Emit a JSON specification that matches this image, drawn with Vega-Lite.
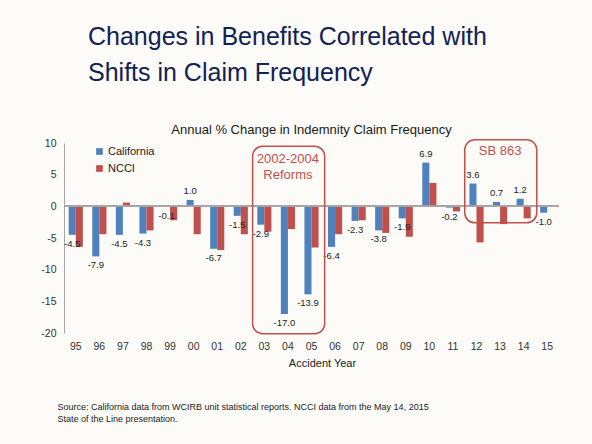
{
  "$schema": "https://vega.github.io/schema/vega-lite/v6.json",
  "autosize": "none",
  "width": 495,
  "height": 190,
  "padding": {"left": 64, "top": 143, "right": 33, "bottom": 111},
  "background": "#FCFBF7",
  "config": {
    "view": {"stroke": null},
    "font": "Liberation Sans",
    "locale": {"number": {"decimal": ".", "thousands": ",", "grouping": [3], "currency": ["$", ""], "minus": "-"}}
  },
  "title": {
    "text": ["Changes in Benefits Correlated with", "Shifts in Claim Frequency"],
    "anchor": "start",
    "frame": "group",
    "dx": 24,
    "offset": 37,
    "fontSize": 25,
    "font": "Liberation Sans",
    "fontWeight": "normal",
    "color": "#112255",
    "lineHeight": 36.6
  },
  "datasets": {
    "bars": [
      {"yr": "95", "series": "California", "v": -4.5},
      {"yr": "96", "series": "California", "v": -7.9},
      {"yr": "97", "series": "California", "v": -4.5},
      {"yr": "98", "series": "California", "v": -4.3},
      {"yr": "99", "series": "California", "v": -0.1},
      {"yr": "00", "series": "California", "v": 1.0},
      {"yr": "01", "series": "California", "v": -6.7},
      {"yr": "02", "series": "California", "v": -1.5},
      {"yr": "03", "series": "California", "v": -2.9},
      {"yr": "04", "series": "California", "v": -17.0},
      {"yr": "05", "series": "California", "v": -13.9},
      {"yr": "06", "series": "California", "v": -6.4},
      {"yr": "07", "series": "California", "v": -2.3},
      {"yr": "08", "series": "California", "v": -3.8},
      {"yr": "09", "series": "California", "v": -1.9},
      {"yr": "10", "series": "California", "v": 6.9},
      {"yr": "11", "series": "California", "v": -0.2},
      {"yr": "12", "series": "California", "v": 3.6},
      {"yr": "13", "series": "California", "v": 0.7},
      {"yr": "14", "series": "California", "v": 1.2},
      {"yr": "15", "series": "California", "v": -1.0},
      {"yr": "95", "series": "NCCI", "v": -6.4},
      {"yr": "96", "series": "NCCI", "v": -4.4},
      {"yr": "97", "series": "NCCI", "v": 0.6},
      {"yr": "98", "series": "NCCI", "v": -3.8},
      {"yr": "99", "series": "NCCI", "v": -2.2},
      {"yr": "00", "series": "NCCI", "v": -4.4},
      {"yr": "01", "series": "NCCI", "v": -6.9},
      {"yr": "02", "series": "NCCI", "v": -4.4},
      {"yr": "03", "series": "NCCI", "v": -4.0},
      {"yr": "04", "series": "NCCI", "v": -3.6},
      {"yr": "05", "series": "NCCI", "v": -6.5},
      {"yr": "06", "series": "NCCI", "v": -4.4},
      {"yr": "07", "series": "NCCI", "v": -2.2},
      {"yr": "08", "series": "NCCI", "v": -4.2},
      {"yr": "09", "series": "NCCI", "v": -4.8},
      {"yr": "10", "series": "NCCI", "v": 3.7},
      {"yr": "11", "series": "NCCI", "v": -0.8},
      {"yr": "12", "series": "NCCI", "v": -5.7},
      {"yr": "13", "series": "NCCI", "v": -2.8},
      {"yr": "14", "series": "NCCI", "v": -1.9}
    ],
    "boxes": [
      {"a": "03", "b": "05", "top": 9.5, "bot": -20.1},
      {"a": "12", "b": "14", "top": 10.5, "bot": -2.6}
    ],
    "notes": [
      {"yr": "04", "y": 7.5, "t": "2002-2004"},
      {"yr": "04", "y": 5.0, "t": "Reforms"},
      {"yr": "13", "y": 8.8, "t": "SB 863"}
    ],
    "heading": [
      {"yr": "05", "y": 11.5, "t": "Annual % Change in Indemnity Claim Frequency"}
    ]
  },
  "layer": [
    {
      "data": {"name": "bars"},
      "mark": {"type": "bar"},
      "encoding": {
        "x": {
          "field": "yr",
          "type": "nominal",
          "scale": {
            "domain": ["95","96","97","98","99","00","01","02","03","04","05","06","07","08","09","10","11","12","13","14","15"],
            "paddingInner": 0.4,
            "paddingOuter": 0.2
          },
          "axis": {
            "title": "Accident Year",
            "domain": false,
            "ticks": false,
            "labelAngle": 0,
            "labelPadding": 8,
            "labelFontSize": 10.5,
            "labelColor": "#333333",
            "titleFontSize": 11,
            "titleFontWeight": "normal",
            "titleColor": "#222222",
            "titlePadding": 6,
            "titleX": 258
          }
        },
        "xOffset": {"field": "series", "type": "nominal", "sort": ["California", "NCCI"]},
        "y": {
          "field": "v",
          "type": "quantitative",
          "scale": {"domain": [-20, 10], "nice": false},
          "axis": {
            "values": [-20, -15, -10, -5, 0, 5, 10],
            "tickCount": 7,
            "labelOverlap": false,
            "format": "d",
            "ticks": false,
            "grid": false,
            "domainColor": "#A6A6A6",
            "labelFontSize": 10.5,
            "labelColor": "#333333",
            "labelPadding": 8,
            "title": ["Source: California data from WCIRB unit statistical reports. NCCI data from the May 14, 2015", "State of the Line presentation."],
            "titleAngle": 0,
            "titleAlign": "left",
            "titleBaseline": "alphabetic",
            "titleX": -7,
            "titleY": 266,
            "titleFontSize": 9,
            "titleFontWeight": "normal",
            "titleColor": "#222222",
            "titleLineHeight": 12
          }
        },
        "color": {
          "field": "series",
          "type": "nominal",
          "scale": {"domain": ["California", "NCCI"], "range": ["#4F81BD", "#C0504D"]},
          "legend": {
            "orient": "none",
            "legendX": 30,
            "legendY": 3,
            "title": null,
            "symbolType": "square",
            "symbolSize": 45,
            "labelFontSize": 11,
            "labelColor": "#222222",
            "rowPadding": 5,
            "labelOffset": 3
          }
        }
      }
    },
    {
      "data": {"name": "bars"},
      "mark": {"type": "rule", "color": "#A6A6A6", "strokeWidth": 1},
      "encoding": {"y": {"datum": 0, "type": "quantitative"}}
    },
    {
      "data": {"name": "bars"},
      "transform": [{"filter": "datum.series === 'California' && datum.v < 0"}],
      "mark": {"type": "text", "dy": 9, "baseline": "middle", "fontSize": 9.5, "color": "#222222"},
      "encoding": {
        "x": {"field": "yr", "type": "nominal"},
        "xOffset": {"field": "series", "type": "nominal", "sort": ["California", "NCCI"]},
        "y": {"field": "v", "type": "quantitative"},
        "text": {"field": "v", "type": "quantitative", "format": ".1f"}
      }
    },
    {
      "data": {"name": "bars"},
      "transform": [{"filter": "datum.series === 'California' && datum.v >= 0"}],
      "mark": {"type": "text", "dy": -9, "baseline": "middle", "fontSize": 9.5, "color": "#222222"},
      "encoding": {
        "x": {"field": "yr", "type": "nominal"},
        "xOffset": {"field": "series", "type": "nominal", "sort": ["California", "NCCI"]},
        "y": {"field": "v", "type": "quantitative"},
        "text": {"field": "v", "type": "quantitative", "format": ".1f"}
      }
    },
    {
      "data": {"name": "boxes"},
      "mark": {"type": "rect", "filled": false, "stroke": "#C0504D", "strokeWidth": 1.5, "cornerRadius": 10},
      "encoding": {
        "x": {"field": "a", "type": "nominal", "bandPosition": -0.33},
        "x2": {"field": "b", "bandPosition": 1.43},
        "y": {"field": "top", "type": "quantitative"},
        "y2": {"field": "bot"}
      }
    },
    {
      "data": {"name": "notes"},
      "mark": {"type": "text", "baseline": "middle", "fontSize": 13, "color": "#C0504D"},
      "encoding": {
        "x": {"field": "yr", "type": "nominal"},
        "y": {"field": "y", "type": "quantitative"},
        "text": {"field": "t", "type": "nominal"}
      }
    },
    {
      "data": {"name": "heading"},
      "mark": {"type": "text", "baseline": "alphabetic", "fontSize": 13, "color": "#1A1A1A"},
      "encoding": {
        "x": {"field": "yr", "type": "nominal"},
        "y": {"field": "y", "type": "quantitative"},
        "text": {"field": "t", "type": "nominal"}
      }
    }
  ]
}
